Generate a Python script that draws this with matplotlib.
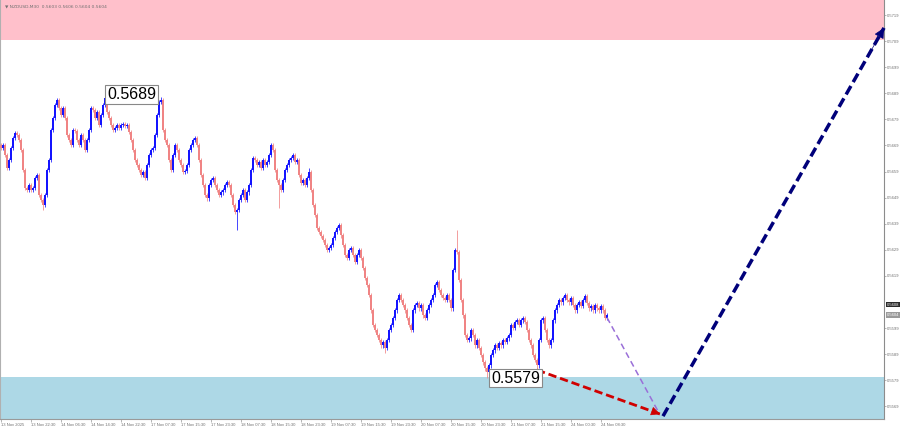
import matplotlib
matplotlib.use("Agg")
import matplotlib.pyplot as plt
from matplotlib.patches import FancyArrowPatch
from matplotlib.transforms import blended_transform_factory
import numpy as np

# ---------------- data ----------------
closes = [
    0.56680, 0.56692, 0.56653, 0.56604, 0.56634, 0.56680, 0.56719, 0.56738, 0.56730, 0.56711, 0.56673, 0.56596, 0.56527, 0.56519, 0.56538, 0.56519,
    0.56527, 0.56565, 0.56577, 0.56500, 0.56481, 0.56462, 0.56500, 0.56596, 0.56634, 0.56749, 0.56795, 0.56845, 0.56864, 0.56834, 0.56807, 0.56834,
    0.56795, 0.56730, 0.56711, 0.56692, 0.56749, 0.56745, 0.56711, 0.56692, 0.56730, 0.56711, 0.56673, 0.56711, 0.56749, 0.56834, 0.56826, 0.56795,
    0.56818, 0.56769, 0.56807, 0.56845, 0.56872, 0.56818, 0.56795, 0.56769, 0.56749, 0.56757, 0.56769, 0.56757, 0.56769, 0.56772, 0.56765, 0.56769,
    0.56742, 0.56711, 0.56673, 0.56634, 0.56615, 0.56596, 0.56577, 0.56588, 0.56565, 0.56615, 0.56653, 0.56673, 0.56680, 0.56730, 0.56807, 0.56857,
    0.56864, 0.56749, 0.56711, 0.56692, 0.56634, 0.56596, 0.56653, 0.56692, 0.56673, 0.56634, 0.56615, 0.56588, 0.56592, 0.56615, 0.56673, 0.56692,
    0.56711, 0.56719, 0.56692, 0.56634, 0.56577, 0.56538, 0.56500, 0.56488, 0.56538, 0.56558, 0.56565, 0.56538, 0.56519, 0.56500, 0.56511, 0.56519,
    0.56538, 0.56550, 0.56538, 0.56500, 0.56462, 0.56435, 0.56442, 0.56481, 0.56500, 0.56519, 0.56481, 0.56511, 0.56538, 0.56596, 0.56642, 0.56634,
    0.56615, 0.56627, 0.56604, 0.56634, 0.56615, 0.56627, 0.56653, 0.56692, 0.56673, 0.56596, 0.56558, 0.56538, 0.56519, 0.56558, 0.56596, 0.56615,
    0.56634, 0.56642, 0.56653, 0.56627, 0.56634, 0.56577, 0.56546, 0.56558, 0.56538, 0.56565, 0.56588, 0.56519, 0.56462, 0.56423, 0.56373, 0.56358,
    0.56343, 0.56327, 0.56308, 0.56289, 0.56297, 0.56308, 0.56335, 0.56358, 0.56373, 0.56385, 0.56346, 0.56308, 0.56270, 0.56258, 0.56289, 0.56297,
    0.56270, 0.56243, 0.56270, 0.56289, 0.56258, 0.56220, 0.56182, 0.56155, 0.56116, 0.56058, 0.56001, 0.55982, 0.55963, 0.55944, 0.55924, 0.55936,
    0.55913, 0.55944, 0.55982, 0.56001, 0.56028, 0.56058, 0.56097, 0.56116, 0.56097, 0.56078, 0.56058, 0.56028, 0.56001, 0.55982, 0.56058, 0.56078,
    0.56086, 0.56066, 0.56078, 0.56039, 0.56028, 0.56058, 0.56078, 0.56097, 0.56116, 0.56155, 0.56166, 0.56136, 0.56116, 0.56105, 0.56097, 0.56116,
    0.56097, 0.56066, 0.56212, 0.56289, 0.56281, 0.56174, 0.56097, 0.56039, 0.55963, 0.55944, 0.55951, 0.55982, 0.55963, 0.55924, 0.55944, 0.55913,
    0.55886, 0.55859, 0.55836, 0.55821, 0.55847, 0.55886, 0.55905, 0.55924, 0.55913, 0.55932, 0.55924, 0.55944, 0.55936, 0.55951, 0.55963, 0.56001,
    0.55990, 0.56013, 0.56020, 0.56001, 0.56020, 0.56028, 0.56013, 0.55982, 0.55944, 0.55924, 0.55886, 0.55867, 0.55847, 0.55944, 0.56020, 0.56028,
    0.55982, 0.55944, 0.55924, 0.55944, 0.56020, 0.56058, 0.56078, 0.56097, 0.56089, 0.56105, 0.56116, 0.56097, 0.56089, 0.56105, 0.56078, 0.56058,
    0.56078, 0.56089, 0.56074, 0.56097, 0.56113, 0.56086, 0.56066, 0.56074, 0.56058, 0.56078, 0.56066, 0.56058, 0.56074, 0.56058, 0.56028, 0.56039,
]
first_open = 0.56692
wick = 0.00009
high_spikes = {52: 0.56895, 80: 0.56876, 154: 0.56604, 228: 0.56366}
low_spikes = {21: 0.56442, 118: 0.56366, 139: 0.56450, 192: 0.55894, 243: 0.55798, 268: 0.55829}

time_labels = ["13 Nov 2025", "13 Nov 22:30", "14 Nov 06:30", "14 Nov 14:30", "14 Nov 22:30",
               "17 Nov 07:30", "17 Nov 15:30", "17 Nov 23:30", "18 Nov 07:30", "18 Nov 15:30",
               "18 Nov 23:30", "19 Nov 07:30", "19 Nov 15:30", "19 Nov 23:30", "20 Nov 07:30",
               "20 Nov 15:30", "20 Nov 23:30", "21 Nov 07:30", "21 Nov 15:30", "24 Nov 00:30",
               "24 Nov 08:30"]
bars_per_label = 15
price_ticks = [0.5719, 0.5709, 0.5699, 0.5689, 0.5679, 0.5669, 0.5659, 0.5649, 0.5639,
               0.5629, 0.5619, 0.5599, 0.5589, 0.5579, 0.5569]
y_range = (0.55641, 0.57248)
resistance_zone = (0.57095, 0.57248)
support_zone = (0.55641, 0.55802)
bid_price = 0.5604
ask_price = 0.5608
header = "\u25BC NZDUSD,M30  0.5603 0.5606 0.5604 0.5604"

high_label_bar, high_label_text = 52, "0.5689"
low_label_bar, low_label_text = 243, "0.5579"

red_path = [(268, 0.55829), (329.5, 0.55660)]
purple_path = [(303, 0.56030), (328.5, 0.55671)]
navy_path = [(331, 0.55652), (441.5, 0.57141)]

# ---------------- figure ----------------
W, H = 900, 429
fig = plt.figure(figsize=(W / 100, H / 100), dpi=100)
ax = fig.add_axes([0, 10 / H, 884 / W, 419 / H])
fig.patch.set_facecolor("white")

n = len(closes)
x = np.arange(n)
closes_a = np.array(closes)
opens = np.concatenate([[first_open], closes_a[:-1]])
highs = np.maximum(opens, closes_a) + wick
lows = np.minimum(opens, closes_a) - wick
for k, v in high_spikes.items():
    highs[k] = v
for k, v in low_spikes.items():
    lows[k] = v

ax.axhspan(*resistance_zone, color="#FFC0CB", zorder=0, lw=0)
ax.axhspan(*support_zone, color="#ADD8E6", zorder=0, lw=0)

bull = "#1414ff"
bear = "#f08484"
colors = [bull if c >= o else bear for o, c in zip(opens, closes_a)]
ax.vlines(x, lows, highs, colors=colors, lw=0.55, zorder=2)
body_lo = np.minimum(opens, closes_a)
body_h = np.maximum(np.abs(closes_a - opens), 0.00002)
ax.bar(x, body_h, bottom=body_lo, width=0.75, color=colors, linewidth=0, zorder=3)

ax.set_xlim(-0.5, 441.5)
ax.set_ylim(*y_range)


def dashed_arrow(path, color, lw, dashes, head_scale):
    (x0, y0), (x1, y1) = path
    ax.plot([x0, x1], [y0, y1], color=color, lw=lw, dashes=dashes,
            solid_capstyle="butt", dash_capstyle="butt", zorder=5, clip_on=False)
    if head_scale:
        px = x1 - 0.06 * (x1 - x0)
        py = y1 - 0.06 * (y1 - y0)
        arr = FancyArrowPatch((px, py), (x1, y1), arrowstyle="-|>", mutation_scale=head_scale,
                              color=color, lw=0.5, shrinkA=0, shrinkB=0, zorder=6, clip_on=False)
        ax.add_patch(arr)


dashed_arrow(purple_path, "#9a6fd8", 1.1, (4, 2.5), 0)
dashed_arrow(red_path, "#d00000", 2.0, (3, 1.4), 14)
dashed_arrow(navy_path, "#00007a", 2.5, (2.8, 1.3), 16)

# labels on extremes
lab_kw = dict(fontsize=11.5, family="Liberation Sans", color="black", va="center", ha="left", zorder=7,
              bbox=dict(boxstyle="square,pad=0.12", facecolor="white", edgecolor="#888888", lw=0.8))
ax.text(high_label_bar + 1.2, highs[high_label_bar] - 0.00008, high_label_text, **lab_kw)
ax.text(low_label_bar + 2.2, lows[low_label_bar], low_label_text, **lab_kw)

# axes styling
ax.spines["top"].set_visible(False)
ax.spines["left"].set_color("#b0b0b0")
ax.spines["left"].set_linewidth(0.8)
ax.spines["right"].set_color("#8c8c8c")
ax.spines["right"].set_linewidth(0.8)
ax.spines["bottom"].set_color("#9a9a9a")
ax.spines["bottom"].set_linewidth(0.8)

small = dict(family="Liberation Sans")
ax.yaxis.tick_right()
ax.set_yticks(price_ticks)
ax.set_yticklabels([f"{p:.4f}" for p in price_ticks], **small)
ax.tick_params(axis="y", length=1.5, width=0.5, colors="#999999", labelsize=3.0,
               labelcolor="#707070", pad=0.6)

tick_pos = [i * bars_per_label for i in range(len(time_labels))]
ax.set_xticks(tick_pos)
ax.set_xticklabels(time_labels, ha="left", **small)
ax.tick_params(axis="x", length=2, width=0.5, colors="#999999", labelsize=3.0,
               labelcolor="#707070", pad=1)

tr = blended_transform_factory(ax.transAxes, ax.transData)
ax.text(1.003, ask_price, f"{ask_price:.4f}", transform=tr, fontsize=3.0, color="white", family="Liberation Sans",
        va="center", ha="left", bbox=dict(boxstyle="square,pad=0.2", facecolor="#2a2a2a", lw=0), clip_on=False)
ax.text(1.003, bid_price, f"{bid_price:.4f}", transform=tr, fontsize=3.0, color="white", family="Liberation Sans",
        va="center", ha="left", bbox=dict(boxstyle="square,pad=0.2", facecolor="#9a9a9a", lw=0), clip_on=False)

fig.text(0.006, 1 - 4 / H, header, fontsize=3.2, color="#707070", va="top", ha="left")

fig.savefig("out.png", dpi=100, facecolor="white")
